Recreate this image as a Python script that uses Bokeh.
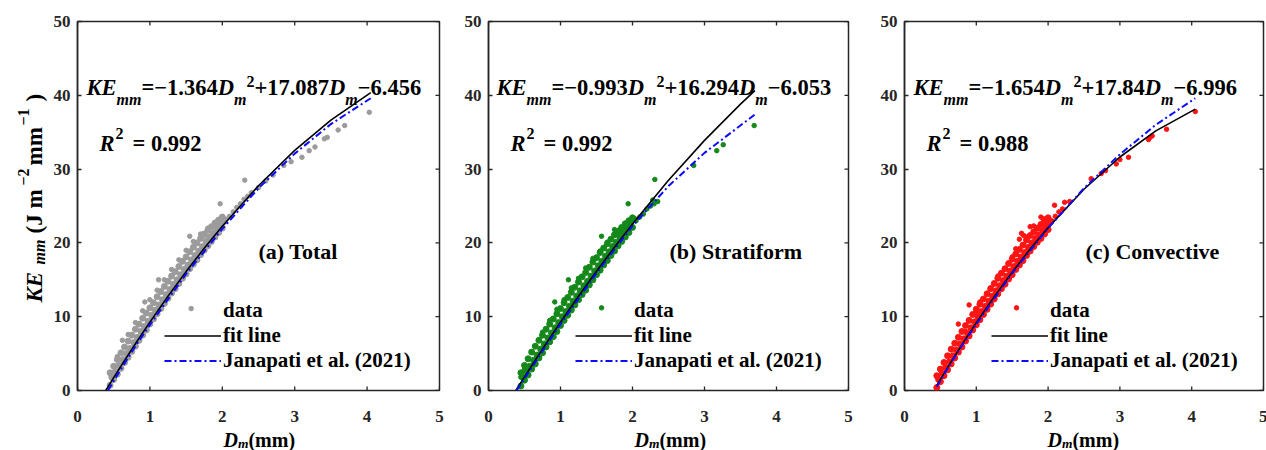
import math
from bokeh.plotting import figure
from bokeh.layouts import row, column
from bokeh.models import (Label, Range1d, FixedTicker, Legend, LegendItem)
from bokeh.embed import file_html
from bokeh.resources import INLINE

# ---------------- data ----------------
X_TICKS = [0, 1, 2, 3, 4, 5]
Y_TICKS = [0, 10, 20, 30, 40, 50]

PANEL_TAGS = ["(a) Total", "(b) Stratiform", "(c) Convective"]
EQ_A = ["1.364", "0.993", "1.654"]
EQ_B = ["17.087", "16.294", "17.84"]
EQ_C = ["6.456", "6.053", "6.996"]
R2_TEXT = ["0.992", "0.992", "0.988"]
LEGEND_LABELS = ["data", "fit line", "Janapati et al. (2021)"]

# x positions of the dense part of each scatter cloud
GRID_X = [0.45, 0.50, 0.55, 0.60, 0.65, 0.70, 0.75, 0.80, 0.85, 0.90, 0.95, 1.00,
          1.05, 1.10, 1.15, 1.20, 1.25, 1.30, 1.35, 1.40, 1.45, 1.50, 1.55, 1.60,
          1.65, 1.70, 1.75, 1.80, 1.85, 1.90, 1.95, 2.00]
GRID_X_HALF = [0.475, 0.525, 0.575, 0.625, 0.675, 0.725, 0.775, 0.825, 0.875, 0.925, 0.975, 1.025,
               1.075, 1.125, 1.175, 1.225, 1.275, 1.325, 1.375, 1.425, 1.475, 1.525, 1.575, 1.625,
               1.675, 1.725, 1.775, 1.825, 1.875, 1.925, 1.975, 2.025]

# (a) Total - grey points
total_lo = [0.7, 1.5, 2.2, 3.0, 3.8, 4.5, 5.3, 6.0, 6.8, 7.5, 8.2, 9.0, 9.7, 10.4, 11.1, 11.8,
            12.5, 13.2, 13.8, 14.5, 15.2, 15.8, 16.5, 17.1, 17.7, 18.4, 19.0, 19.6, 20.2, 20.8, 21.4, 22.0]
total_mid = [1.8, 2.6, 3.4, 4.2, 5.0, 5.7, 6.5, 7.2, 8.0, 8.7, 9.4, 10.2, 10.9, 11.6, 12.3, 13.0,
             13.7, 14.4, 15.0, 15.7, 16.4, 17.0, 17.7, 18.3, 18.9, 19.5, 20.2, 20.8, 21.3, 21.9, 22.4, 22.9]
total_hi = [2.4, 3.3, 4.2, 5.1, 5.9, 6.7, 7.5, 8.3, 9.0, 9.8, 10.5, 11.2, 11.9, 12.7, 13.4, 14.1,
            14.8, 15.5, 16.1, 16.8, 17.5, 18.1, 18.8, 19.4, 20.0, 20.6, 21.2, 21.7, 22.2, 22.7, 23.1, 23.5]
total_extra_x = [0.70, 0.80, 0.90, 1.00, 1.10, 1.20, 1.30, 1.40, 1.50, 1.60, 1.70, 1.80,
                 2.05, 2.10, 2.15, 2.20, 2.25, 2.30, 2.35, 2.40, 2.50, 2.60, 2.70, 2.85, 2.95,
                 3.10, 3.20, 3.28, 3.41, 3.45, 3.60, 3.69, 4.03,
                 0.93, 1.12, 1.57, 1.55, 1.97, 2.31, 0.62, 0.55, 1.75]
total_extra_y = [7.6, 9.2, 10.8, 12.3, 13.6, 15.0, 16.4, 17.7, 19.0, 20.2, 21.2, 22.0,
                 23.2, 23.6, 24.2, 24.8, 25.3, 25.9, 26.3, 26.8, 27.5, 28.4, 29.2, 30.5, 31.0,
                 31.6, 32.5, 33.0, 34.1, 34.3, 35.3, 35.9, 37.7,
                 12.0, 15.0, 11.1, 20.9, 25.3, 28.5, 6.8, 4.6, 21.0]

# (b) Stratiform - green points
strat_lo = [0.6, 1.4, 2.1, 2.9, 3.6, 4.4, 5.1, 5.9, 6.6, 7.3, 8.0, 8.8, 9.5, 10.2, 10.9, 11.6,
            12.3, 13.0, 13.6, 14.3, 15.0, 15.7, 16.3, 17.0, 17.6, 18.3, 18.9, 19.6, 20.2, 20.8, 21.4, 22.1]
strat_mid = [1.8, 2.6, 3.3, 4.1, 4.8, 5.6, 6.3, 7.1, 7.8, 8.5, 9.2, 10.0, 10.7, 11.4, 12.1, 12.8,
             13.5, 14.2, 14.8, 15.5, 16.2, 16.9, 17.5, 18.2, 18.8, 19.5, 20.1, 20.8, 21.4, 22.0, 22.6, 23.2]
strat_hi = [2.4, 3.4, 4.3, 5.2, 6.0, 6.8, 7.5, 8.3, 9.0, 9.7, 10.4, 11.1, 11.9, 12.6, 13.3, 14.0,
            14.7, 15.4, 16.0, 16.7, 17.4, 18.0, 18.7, 19.3, 19.9, 20.5, 21.1, 21.6, 22.1, 22.6, 23.0, 23.4]
strat_extra_x = [0.75, 0.85, 0.95, 1.05, 1.15, 1.25, 1.35, 1.45, 1.55, 1.65, 1.75, 1.80,
                 2.05, 2.10, 2.15, 2.20, 2.25, 2.28, 2.30, 2.35, 2.85, 3.17, 3.26, 3.69,
                 0.92, 1.11, 1.57, 1.57, 1.94, 2.31, 0.45, 0.50]
strat_extra_y = [7.9, 9.5, 11.0, 12.3, 13.9, 15.2, 16.6, 17.9, 18.9, 20.1, 21.8, 21.5,
                 23.0, 23.5, 23.9, 24.6, 25.0, 25.8, 25.3, 25.6, 30.5, 32.5, 33.3, 35.9,
                 12.0, 15.0, 11.2, 20.9, 25.3, 28.6, 1.8, 2.9]

# (c) Convective - red points
conv_lo = [0.4, 1.2, 2.0, 2.8, 3.6, 4.4, 5.2, 5.9, 6.7, 7.4, 8.2, 8.9, 9.6, 10.3, 11.0, 11.7,
           12.4, 13.1, 13.8, 14.4, 15.1, 15.7, 16.4, 17.0, 17.6, 18.3, 18.9, 19.5, 20.1, 20.6, 21.2, 21.8]
conv_mid = [1.5, 2.3, 3.1, 3.9, 4.7, 5.5, 6.3, 7.0, 7.8, 8.5, 9.3, 10.0, 10.7, 11.4, 12.1, 12.8,
            13.5, 14.2, 14.9, 15.5, 16.2, 16.8, 17.5, 18.1, 18.7, 19.4, 20.0, 20.6, 21.1, 21.7, 22.3, 22.8]
conv_hi = [2.0, 2.9, 3.8, 4.7, 5.6, 6.4, 7.2, 8.0, 8.8, 9.5, 10.3, 11.0, 11.7, 12.4, 13.1, 13.8,
           14.5, 15.2, 15.9, 16.5, 17.2, 17.8, 18.5, 19.1, 19.7, 20.4, 21.0, 21.5, 22.0, 22.5, 23.0, 23.4]
conv_extra_x = [0.75, 0.85, 0.90, 1.00, 1.05, 1.20, 1.30, 1.40, 1.50, 1.55, 1.60, 1.63, 1.66,
                1.70, 1.75, 1.80, 1.85, 1.90, 1.93,
                2.05, 2.09, 2.10, 2.15, 2.20, 2.23, 2.30, 2.60, 2.74, 2.80, 2.95, 3.00, 3.12,
                3.40, 3.42, 3.45, 3.65, 4.05, 1.56]
conv_extra_y = [9.0, 8.0, 11.6, 10.6, 12.0, 13.9, 15.5, 16.5, 18.1, 19.2, 20.5, 21.3, 21.0,
                20.8, 22.2, 22.3, 22.0, 23.5, 23.3,
                23.0, 25.1, 23.6, 24.2, 24.6, 25.5, 25.6, 28.7, 29.4, 29.8, 30.7, 31.3, 31.6,
                34.0, 34.3, 34.5, 35.4, 37.8, 11.2]

# fit lines (black)
total_fit_x = [0.39, 0.5, 0.6, 0.8, 1.0, 1.25, 1.5, 1.75, 2.0, 2.5, 3.0, 3.5, 4.05]
total_fit_y = [0.0, 1.75, 3.31, 6.34, 9.27, 12.77, 16.11, 19.27, 22.26, 27.74, 32.53, 36.64, 40.37]
strat_fit_x = [0.38, 0.5, 0.6, 0.8, 1.0, 1.25, 1.5, 1.75, 2.0, 2.5, 3.0, 3.5, 3.7]
strat_fit_y = [0.0, 1.85, 3.37, 6.35, 9.25, 12.76, 16.15, 19.42, 22.56, 28.48, 33.89, 38.81, 40.64]
conv_fit_x = [0.45, 0.6, 0.8, 1.0, 1.25, 1.5, 1.75, 2.0, 2.5, 3.0, 3.5, 4.05]
conv_fit_y = [0.70, 3.11, 6.22, 9.19, 12.72, 16.04, 19.16, 22.07, 27.27, 31.64, 35.18, 38.13]

# Janapati et al. (2021) lines (blue dash-dot)
total_jan_x = [0.42, 0.6, 0.8, 1.0, 1.5, 2.0, 2.5, 3.0, 3.5, 4.05]
total_jan_y = [0.0, 2.9, 6.0, 8.9, 15.8, 21.9, 27.4, 32.1, 36.1, 39.6]
strat_jan_x = [0.39, 0.6, 0.8, 1.0, 1.5, 2.0, 2.5, 3.0, 3.7]
strat_jan_y = [0.0, 3.1, 6.1, 9.0, 15.9, 22.3, 27.7, 32.2, 37.4]
conv_jan_x = [0.45, 0.6, 0.8, 1.0, 1.5, 2.0, 2.5, 3.0, 3.5, 4.05]
conv_jan_y = [0.5, 3.0, 6.1, 9.0, 15.9, 22.0, 27.4, 32.0, 36.0, 39.6]

# ---------------- styling ----------------
FONT = "Liberation Serif"
INK = "#262626"
B = "bold"
BI = "bold italic"
COLORS = ["#9b9b9b", "#14891a", "#ff1414"]
FIT_COLOR = "black"
JAN_COLOR = "#0a0aff"

BOLD_W = {' ': 250, '(': 333, ')': 333, '.': 250, '=': 570, '+': 570, '\u2212': 570,
          'm': 833}
for d in "0123456789":
    BOLD_W[d] = 500
BI_W = {'K': 667, 'E': 667, 'D': 722, 'R': 667, 'm': 778}


def tw(text, style, size):
    table = BI_W if style == BI else BOLD_W
    return sum(table.get(c, 500) for c in text) * size / 1000.0


def label(p, x, y, text, style, size, angle=0.0):
    p.add_layout(Label(x=x, y=y, x_units="screen", y_units="screen", text=text,
                       text_font=FONT, text_font_style=style, text_font_size=f"{size}px",
                       text_color="black", text_align="left", text_baseline="alphabetic",
                       angle=angle))


def pieces(p, x0, y0, items):
    x = x0
    for text, style, size, dy in items:
        label(p, x, y0 + dy, text, style, size)
        x += tw(text, style, size)


def blank_fig(fw, fh, left=0, right=0, top=0, bottom=0):
    f = figure(frame_width=fw, frame_height=fh, x_range=Range1d(0, 1), y_range=Range1d(0, 1),
               output_backend="svg", toolbar_location=None,
               x_axis_location=None, y_axis_location=None,
               min_border=0, min_border_left=left, min_border_right=right,
               min_border_top=top, min_border_bottom=bottom,
               background_fill_color="white", border_fill_color="white")
    f.grid.visible = False
    f.outline_line_color = None
    return f


FRAME_H = 369
TOP_B = 21
P_BOTTOM = 10          # room for the half of the "0" y tick label under the frame
XL_TOP = 21            # x tick labels live here (axis above the title strip)
XL_FRAME = 450 - TOP_B - FRAME_H - P_BOTTOM - XL_TOP
YLAB_W = 50
LEFTS = [26, 39, 46]
RIGHTS = [10, 10, 4]
FRAME_WS = [362, 360, 359]
XLAB_OFFSET = [146, 146, 143]

SCATTER_BAND = [
    (GRID_X + GRID_X_HALF + GRID_X, total_lo + total_mid + total_hi),
    (GRID_X + GRID_X_HALF + GRID_X, strat_lo + strat_mid + strat_hi),
    (GRID_X + GRID_X_HALF + GRID_X, conv_lo + conv_mid + conv_hi),
]
SCATTER_SPARSE = [(total_extra_x, total_extra_y), (strat_extra_x, strat_extra_y),
                  (conv_extra_x, conv_extra_y)]
FITS = [(total_fit_x, total_fit_y), (strat_fit_x, strat_fit_y), (conv_fit_x, conv_fit_y)]
JANS = [(total_jan_x, total_jan_y), (strat_jan_x, strat_jan_y), (conv_jan_x, conv_jan_y)]


def style_labels(ax, ticks, standoff):
    ax.ticker = FixedTicker(ticks=ticks)
    ax.minor_tick_line_color = None
    ax.major_label_text_font = FONT
    ax.major_label_text_font_style = "bold"
    ax.major_label_text_color = INK
    ax.major_label_text_font_size = "17px"
    ax.major_label_standoff = standoff


# y-axis title strip, same vertical structure as the panels
ylab = blank_fig(YLAB_W, FRAME_H, top=TOP_B, bottom=450 - TOP_B - FRAME_H)
a = math.pi / 2
label(ylab, 34, 88, "KE", BI, 23, a)
label(ylab, 39, 126, "mm", BI, 16, a)
label(ylab, 34, 157, "(J m", B, 23, a)
label(ylab, 23, 205, "\u22122", B, 16, a)
label(ylab, 34, 225, "mm", B, 23, a)
label(ylab, 23, 265, "\u22121", B, 16, a)
label(ylab, 34, 289, ")", B, 23, a)

cols = []
for i in range(3):
    p = figure(frame_width=FRAME_WS[i], frame_height=FRAME_H,
               x_range=Range1d(X_TICKS[0], X_TICKS[-1]), y_range=Range1d(Y_TICKS[0], Y_TICKS[-1]),
               x_axis_location=None,
               output_backend="svg", toolbar_location=None,
               min_border_left=LEFTS[i], min_border_right=RIGHTS[i],
               min_border_top=TOP_B, min_border_bottom=P_BOTTOM,
               background_fill_color="white", border_fill_color="white")
    p.grid.visible = False
    p.outline_line_color = INK
    p.outline_line_width = 1.5
    ya = p.left[0]
    style_labels(ya, Y_TICKS, 7)
    ya.major_tick_in = 4
    ya.major_tick_out = 0
    ya.axis_line_color = INK
    ya.axis_line_width = 1.5
    ya.major_tick_line_color = INK
    ya.major_tick_line_width = 1.3

    # inward ticks on the bottom, top and right edges (box on)
    tx = 4 * (X_TICKS[-1] - X_TICKS[0]) / FRAME_WS[i]
    ty = 4 * (Y_TICKS[-1] - Y_TICKS[0]) / FRAME_H
    p.segment(x0=X_TICKS, y0=[Y_TICKS[0]] * len(X_TICKS), x1=X_TICKS,
              y1=[Y_TICKS[0] + ty] * len(X_TICKS), line_color=INK, line_width=1.3)
    p.segment(x0=X_TICKS, y0=[Y_TICKS[-1]] * len(X_TICKS), x1=X_TICKS,
              y1=[Y_TICKS[-1] - ty] * len(X_TICKS), line_color=INK, line_width=1.3)
    p.segment(x0=[X_TICKS[-1]] * len(Y_TICKS), y0=Y_TICKS,
              x1=[X_TICKS[-1] - tx] * len(Y_TICKS), y1=Y_TICKS, line_color=INK, line_width=1.3)

    bx, by = SCATTER_BAND[i]
    p.scatter(x=bx, y=by, size=6, marker="circle", fill_color=COLORS[i], line_color=COLORS[i])
    ex, ey = SCATTER_SPARSE[i]
    p.scatter(x=ex, y=ey, size=4.5, marker="circle", fill_color=COLORS[i], line_color=COLORS[i])
    r_key = p.scatter(x=[], y=[], marker="dot", size=10, color=COLORS[i], line_width=2)
    fx, fy = FITS[i]
    r_fit = p.line(fx, fy, line_color=FIT_COLOR, line_width=1.6)
    jx, jy = JANS[i]
    r_jan = p.line(jx, jy, line_color=JAN_COLOR, line_width=2, line_dash="7 3 2 3")

    leg = Legend(items=[LegendItem(label=LEGEND_LABELS[0], renderers=[r_key]),
                        LegendItem(label=LEGEND_LABELS[1], renderers=[r_fit]),
                        LegendItem(label=LEGEND_LABELS[2], renderers=[r_jan])],
                 location=(87, 17), orientation="vertical",
                 label_text_font=FONT, label_text_font_style="bold",
                 label_text_font_size="21px", label_text_color="black",
                 glyph_width=57, glyph_height=25, label_height=25, spacing=0,
                 padding=0, margin=0, label_standoff=2,
                 border_line_color=None, background_fill_alpha=0)
    p.add_layout(leg)

    # equation
    eq = [("KE", BI, 22.5, 0), ("mm", BI, 16, -12), ("=\u2212" + EQ_A[i], B, 22.5, 0),
          ("D", BI, 22.5, 0), ("m", BI, 16, -12), ("2", B, 16, 6),
          ("+" + EQ_B[i], B, 22.5, 0), ("D", BI, 22.5, 0), ("m", BI, 16, -12),
          ("\u2212" + EQ_C[i], B, 22.5, 0)]
    pieces(p, 9 if i != 1 else 8, 303, eq)
    # R^2
    label(p, 22, 247, "R", BI, 22.5)
    label(p, 38, 257, "2", B, 16)
    label(p, 55, 247, "= " + R2_TEXT[i], B, 22.5)
    # panel tag
    label(p, 181, 139, PANEL_TAGS[i], B, 22)

    # strip under the panel: x tick labels (axis on its top edge) and the x-axis title
    xl = figure(frame_width=FRAME_WS[i], frame_height=XL_FRAME,
                x_range=p.x_range, y_range=Range1d(0, 1),
                x_axis_location="above", y_axis_location=None,
                output_backend="svg", toolbar_location=None,
                min_border=0, min_border_left=LEFTS[i], min_border_right=RIGHTS[i],
                min_border_top=XL_TOP, min_border_bottom=0,
                background_fill_color="white", border_fill_color="white")
    xl.grid.visible = False
    xl.outline_line_color = None
    xa = xl.above[0]
    style_labels(xa, X_TICKS, 0)
    xa.major_tick_in = 0
    xa.major_tick_out = 0
    xa.major_tick_line_color = None
    xa.axis_line_color = None
    pieces(xl, XLAB_OFFSET[i], 11,
           [("D", BI, 20, 0), ("m", BI, 13.5, -3.5), ("(mm)", B, 20, 0)])
    cols.append(column(p, xl, spacing=0))

layout = row(ylab, *cols, spacing=0)
open("out.html", "w").write(file_html(layout, INLINE))
